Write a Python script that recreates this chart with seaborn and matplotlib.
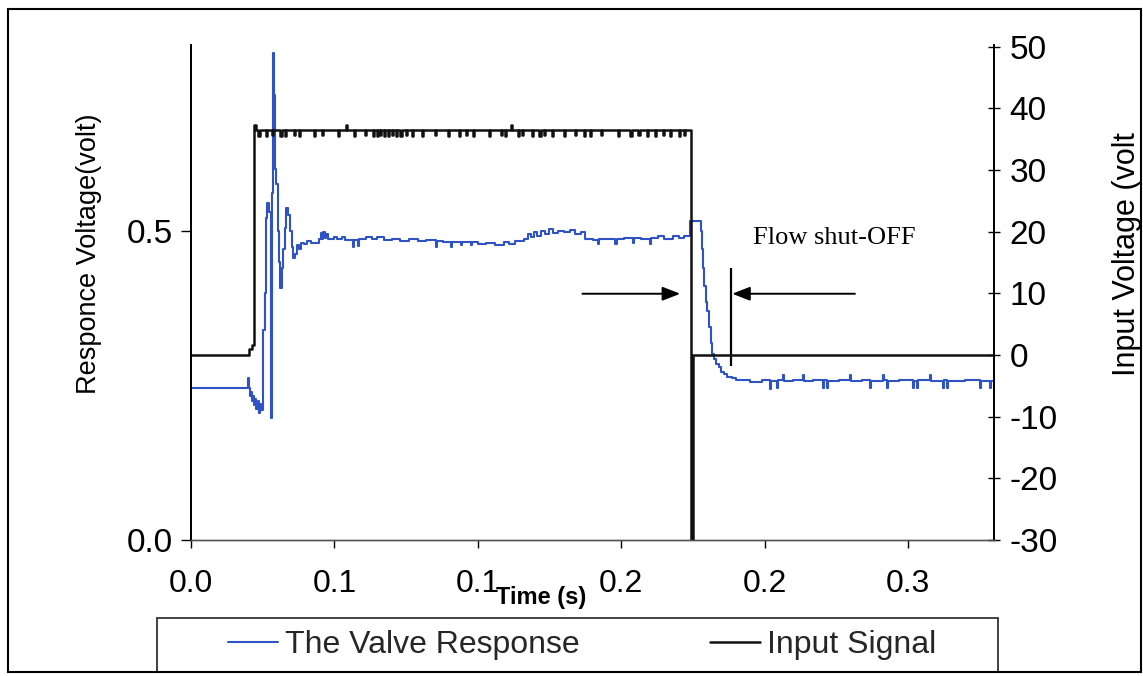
import matplotlib
matplotlib.use("Agg")
import matplotlib.pyplot as plt
from matplotlib.patches import Rectangle
import pandas as pd
import seaborn as sns

# ---- valve response (left axis, volt), sampled signal held between samples ----
valve_t = [
    0.0000, 0.0199, 0.0202, 0.0206, 0.0210, 0.0213, 0.0217, 0.0220, 0.0224, 0.0228,
    0.0232, 0.0236, 0.0240, 0.0244, 0.0250, 0.0258, 0.0262, 0.0266, 0.0272, 0.0279,
    0.0282, 0.0286, 0.0290, 0.0294, 0.0298, 0.0302, 0.0307, 0.0312, 0.0317, 0.0322,
    0.0327, 0.0332, 0.0338, 0.0344, 0.0351, 0.0357, 0.0364, 0.0370, 0.0376, 0.0385,
    0.0393, 0.0405,
    0.0418, 0.0446, 0.0452, 0.0456, 0.0462, 0.0466, 0.0472, 0.0477, 0.0500, 0.0508,
    0.0528, 0.0536, 0.0564, 0.0568, 0.0581, 0.0585, 0.0610, 0.0630, 0.0650, 0.0672,
    0.0700, 0.0730, 0.0760, 0.0790, 0.0820, 0.0853, 0.0857, 0.0880, 0.0905, 0.0909,
    0.0940, 0.0944, 0.0975, 0.0979, 0.1000, 0.1030, 0.1060, 0.1090, 0.1110, 0.1130,
    0.1160, 0.1175, 0.1185, 0.1195, 0.1205, 0.1220, 0.1235, 0.1250, 0.1262, 0.1280,
    0.1300, 0.1320, 0.1340, 0.1360, 0.1375, 0.1400, 0.1420, 0.1424, 0.1450, 0.1480,
    0.1484, 0.1510, 0.1540, 0.1544, 0.1570, 0.1600, 0.1604, 0.1630, 0.1650, 0.1680,
    0.1700, 0.1720,
    0.1741, 0.1778, 0.1782, 0.1786, 0.1790, 0.1795, 0.1800, 0.1806, 0.1812, 0.1818,
    0.1825, 0.1832, 0.1840, 0.1848, 0.1858, 0.1870, 0.1885,
    0.1900, 0.1950, 0.1990, 0.2019, 0.2023, 0.2044, 0.2048, 0.2065, 0.2069, 0.2100,
    0.2134, 0.2138, 0.2170, 0.2204, 0.2208, 0.2218, 0.2222, 0.2260, 0.2298, 0.2302,
    0.2340, 0.2368, 0.2372, 0.2413, 0.2417, 0.2427, 0.2431, 0.2470, 0.2517, 0.2521,
    0.2531, 0.2535, 0.2577, 0.2581, 0.2622, 0.2626, 0.2636, 0.2640, 0.2700, 0.2751,
    0.2755, 0.2786, 0.2790, 0.2800,
]
valve_v = [
    0.245, 0.262, 0.246, 0.232, 0.240, 0.224, 0.233, 0.218, 0.228, 0.212,
    0.224, 0.206, 0.220, 0.210, 0.340, 0.400, 0.520, 0.545, 0.530, 0.197,
    0.560, 0.787, 0.720, 0.600, 0.576, 0.500, 0.450, 0.408, 0.440, 0.470,
    0.505, 0.537, 0.525, 0.500, 0.473, 0.456, 0.462, 0.476, 0.470, 0.480,
    0.478, 0.484,
    0.480, 0.487, 0.496, 0.487, 0.497, 0.488, 0.494, 0.487, 0.490, 0.486,
    0.489, 0.485, 0.474, 0.485, 0.475, 0.486, 0.489, 0.486, 0.489, 0.485,
    0.487, 0.484, 0.486, 0.483, 0.485, 0.474, 0.484, 0.482, 0.473, 0.482,
    0.476, 0.481, 0.477, 0.481, 0.478, 0.480, 0.477, 0.481, 0.479, 0.484,
    0.487, 0.494, 0.490, 0.498, 0.492, 0.500, 0.494, 0.502, 0.496, 0.500,
    0.497, 0.501, 0.495, 0.498, 0.487, 0.485, 0.479, 0.487, 0.486, 0.478,
    0.487, 0.488, 0.480, 0.488, 0.486, 0.478, 0.488, 0.491, 0.487, 0.492,
    0.488, 0.491,
    0.516, 0.500, 0.470, 0.440, 0.410, 0.385, 0.370, 0.345, 0.318, 0.300,
    0.292, 0.285, 0.280, 0.272, 0.268, 0.264, 0.262,
    0.258, 0.255, 0.258, 0.244, 0.257, 0.245, 0.258, 0.267, 0.257, 0.259,
    0.266, 0.257, 0.258, 0.245, 0.258, 0.246, 0.257, 0.259, 0.267, 0.257,
    0.258, 0.245, 0.257, 0.266, 0.258, 0.246, 0.257, 0.259, 0.245, 0.257,
    0.246, 0.258, 0.266, 0.257, 0.245, 0.258, 0.246, 0.257, 0.259, 0.245,
    0.257, 0.246, 0.257, 0.257,
]

# ---- input signal (right axis, volt) ----
input_t = [
    0.0000, 0.0202, 0.0214, 0.0219, 0.0228,
    0.0235, 0.0239, 0.0262, 0.0266, 0.0282, 0.0286, 0.0312, 0.0316, 0.0328, 0.0332,
    0.0360, 0.0364, 0.0376, 0.0380, 0.0428, 0.0432, 0.0456, 0.0460, 0.0512, 0.0516,
    0.0540, 0.0544, 0.0568, 0.0572, 0.0606, 0.0610, 0.0634, 0.0638, 0.0648, 0.0652,
    0.0660, 0.0664, 0.0672, 0.0676, 0.0686, 0.0690, 0.0700, 0.0704, 0.0714, 0.0718,
    0.0730, 0.0734, 0.0748, 0.0752, 0.0770, 0.0774, 0.0806, 0.0810, 0.0852, 0.0856,
    0.0896, 0.0900, 0.0935, 0.0939, 0.0960, 0.0964, 0.0982, 0.0986, 0.1040, 0.1044,
    0.1082, 0.1086, 0.1096, 0.1100, 0.1115, 0.1119, 0.1140, 0.1144, 0.1155, 0.1159,
    0.1190, 0.1194, 0.1215, 0.1219, 0.1232, 0.1236, 0.1260, 0.1264, 0.1300, 0.1304,
    0.1340, 0.1344, 0.1370, 0.1374, 0.1392, 0.1396, 0.1430, 0.1434, 0.1490, 0.1494,
    0.1532, 0.1536, 0.1560, 0.1564, 0.1590, 0.1594, 0.1618, 0.1622, 0.1645, 0.1649,
    0.1670, 0.1674, 0.1700, 0.1704, 0.1720, 0.1724,
    0.1745, 0.1749, 0.2800,
]
input_v = [
    0.0, 1.0, 1.6, 37.3, 36.5,
    35.6, 36.5, 35.6, 36.5, 35.7, 36.5, 35.6, 36.5, 35.6, 36.5,
    35.7, 36.5, 35.6, 36.5, 35.6, 36.5, 35.7, 36.5, 35.6, 36.5,
    37.4, 36.5, 35.6, 36.5, 35.7, 36.5, 35.6, 36.5, 35.6, 36.5,
    35.7, 36.5, 35.6, 36.5, 35.6, 36.5, 35.7, 36.5, 35.6, 36.5,
    35.6, 36.5, 35.7, 36.5, 35.6, 36.5, 35.6, 36.5, 35.7, 36.5,
    35.6, 36.5, 35.6, 36.5, 35.7, 36.5, 35.6, 36.5, 35.6, 36.5,
    35.7, 36.5, 35.6, 36.5, 37.4, 36.5, 35.6, 36.5, 35.7, 36.5,
    35.6, 36.5, 35.6, 36.5, 35.7, 36.5, 35.6, 36.5, 35.6, 36.5,
    35.7, 36.5, 35.6, 36.5, 35.6, 36.5, 35.7, 36.5, 35.6, 36.5,
    35.6, 36.5, 35.7, 36.5, 35.6, 36.5, 35.6, 36.5, 35.7, 36.5,
    35.6, 36.5, 35.6, 36.5, 35.7, 36.5,
    -31.0, 0.0, 0.0,
]

x_ticks = [0.00, 0.05, 0.10, 0.15, 0.20, 0.25]
x_tick_labels = ["0.0", "0.1", "0.1", "0.2", "0.2", "0.3"]
left_ticks = [0.0, 0.5]
left_tick_labels = ["0.0", "0.5"]
right_ticks = [-30, -20, -10, 0, 10, 20, 30, 40, 50]

series_names = ["The Valve Response", "Input Signal"]
series_colors = ["#2f52c4", "#111111"]

sns.set_theme(style="white")
plt.rcParams["font.family"] = ["Liberation Sans", "DejaVu Sans"]
plt.rcParams["axes.unicode_minus"] = False

W, H = 1143, 676
fig = plt.figure(figsize=(W / 100, H / 100), dpi=100)
ax = fig.add_axes([191 / W, 1 - 540 / H, (994 - 191) / W, (540 - 45) / H])
ax2 = ax.twinx()

valve_df = pd.DataFrame({"Time": valve_t, "Response": valve_v})
input_df = pd.DataFrame({"Time": input_t, "Input": input_v})

sns.lineplot(data=valve_df, x="Time", y="Response", ax=ax, estimator=None,
             sort=False, drawstyle="steps-post", color=series_colors[0],
             linewidth=1.5, label=series_names[0], legend=False)
sns.lineplot(data=input_df, x="Time", y="Input", ax=ax2, estimator=None,
             sort=False, drawstyle="steps-post", color=series_colors[1],
             linewidth=1.8, label=series_names[1], legend=False)

ax.set_xlim(0, 0.28)
ax.set_ylim(0, 0.8)
ax2.set_ylim(-30, 50.3)

ax.set_xticks(x_ticks)
ax.set_xticklabels(x_tick_labels)
ax.set_yticks(left_ticks)
ax.set_yticklabels(left_tick_labels)
ax2.set_yticks(right_ticks)

ax.tick_params(axis="x", direction="out", length=6, width=1, pad=15,
               labelsize=23, colors="black", bottom=True)
ax.tick_params(axis="y", direction="out", length=7, width=1, pad=6,
               labelsize=24, colors="black", left=True)
ax2.tick_params(axis="y", direction="inout", length=8, width=1, pad=7,
                labelsize=24, colors="black", right=True)

for a in (ax, ax2):
    a.grid(False)
    a.spines["top"].set_visible(False)
    a.spines["left"].set_color("black")
    a.spines["right"].set_color("black")
    a.spines["left"].set_linewidth(1.3)
    a.spines["right"].set_linewidth(1.3)
    a.spines["bottom"].set_color("#555555")
    a.spines["bottom"].set_linewidth(1.0)
ax.set_facecolor("white")
ax2.patch.set_visible(False)

ax.set_xlabel("")
ax.set_ylabel("Responce Voltage(volt)", fontsize=19.5, color="black")
ax.yaxis.set_label_coords(-0.111, 0.579)
ax2.set_ylabel("Input Voltage (volt", fontsize=22, color="black")
ax2.yaxis.set_label_coords(1.147, 0.578)
ax.text(0.436, -0.117, "Time (s)", transform=ax.transAxes, ha="center",
        va="center", fontsize=17, fontweight="bold", color="black")

# shut-off annotation: arrows bracketing the closing interval
arrow_y = 0.398
shut_start, shut_end = 0.1706, 0.1887
ax.annotate("", xy=(shut_start, arrow_y), xytext=(0.1365, arrow_y),
            arrowprops=dict(arrowstyle="-|>,head_length=0.9,head_width=0.35",
                            color="black", lw=1.4, shrinkA=0, shrinkB=0))
ax.annotate("", xy=(shut_end, arrow_y), xytext=(0.2315, arrow_y),
            arrowprops=dict(arrowstyle="-|>,head_length=0.9,head_width=0.35",
                            color="black", lw=1.4, shrinkA=0, shrinkB=0))
ax.vlines(0.1884, 0.282, 0.439, color="black", lw=1.6)
ax.text(0.196, 0.479, "Flow shut-OFF", fontsize=19,
        family=["Liberation Serif", "DejaVu Serif"], ha="left", va="baseline",
        color="black")

# legend below the plot, inside its own box
handles = [ax.get_lines()[0], ax2.get_lines()[0]]
fig.legend(handles, series_names, loc="center left",
           bbox_to_anchor=(228 / W, 1 - 645 / H), ncol=2, frameon=False,
           borderpad=0, borderaxespad=0, handlelength=1.56, handletextpad=0.22,
           columnspacing=4.1, fontsize=23)
fig.add_artist(Rectangle((157 / W, 1 - 672 / H), (998 - 157) / W, (672 - 618) / H,
                         transform=fig.transFigure, fill=False,
                         edgecolor="#333333", lw=1.3))
# outer frame
fig.add_artist(Rectangle((8 / W, 1 - 672 / H), (1141 - 8) / W, (672 - 9) / H,
                         transform=fig.transFigure, fill=False,
                         edgecolor="black", lw=1.5))

fig.savefig("out.png", dpi=100, facecolor="white")
